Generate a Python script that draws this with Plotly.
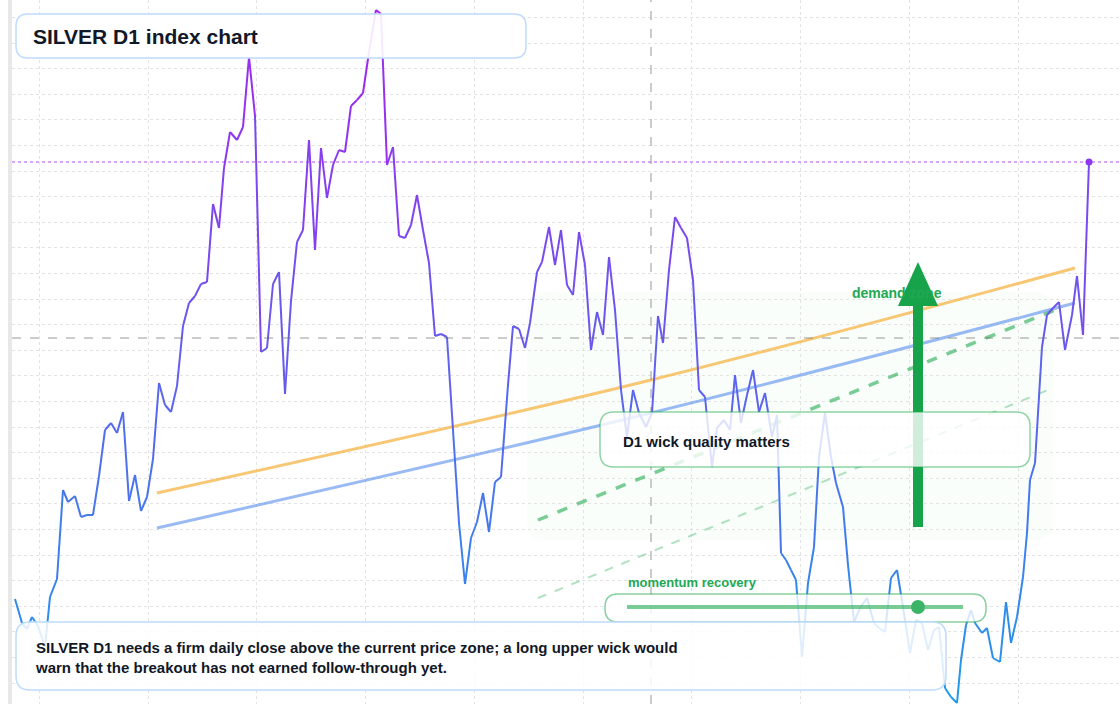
import plotly.graph_objects as go

# index level and session offset, read per point
level = [105, 81, 75, 87, 78, 57, 107, 125, 214, 202, 208, 187, 189, 189, 228, 274, 281, 271, 292, 203,
         229, 193, 207, 245, 321, 299, 292, 318, 378, 401, 408, 420, 422, 500, 476, 536, 572, 564, 577, 647,
         588, 352, 356, 420, 432, 310, 403, 462, 474, 564, 454, 556, 506, 539, 554, 552, 598, 604, 611, 652,
         694, 690, 539, 557, 468, 466, 479, 509, 474, 441, 368, 370, 367, 274, 181, 120, 166, 182, 211, 172,
         222, 227, 319, 378, 375, 356, 381, 432, 442, 477, 439, 474, 419, 409, 472, 439, 354, 392, 369, 447,
         394, 314, 267, 314, 291, 277, 291, 388, 361, 434, 487, 476, 466, 424, 314, 307, 237, 276, 284, 274,
         329, 281, 309, 334, 292, 311, 267, 289, 151, 144, 134, 124, 47, 121, 157, 247, 291, 247, 221, 197,
         139, 82, 96, 106, 81, 76, 72, 126, 134, 97, 51, 84, 81, 54, 74, 77, 16, 7, 1, 44,
         79, 94, 81, 71, 76, 46, 42, 102, 61, 87, 127, 171, 224, 241, 357, 389, 396, 402, 354, 389,
         428, 369, 542]
session = [0, 7, 12, 17, 23, 30, 35, 42, 48, 53, 60, 66, 72, 78, 84, 90, 96, 102, 108, 114,
           120, 126, 132, 138, 144, 150, 156, 162, 168, 174, 180, 186, 192, 198, 204, 209, 215, 222, 228, 234,
           240, 246, 252, 258, 264, 270, 276, 282, 288, 294, 300, 306, 312, 318, 324, 330, 336, 342, 348, 354,
           361, 366, 372, 378, 384, 390, 396, 402, 408, 414, 420, 426, 432, 438, 444, 450, 456, 462, 468, 474,
           480, 486, 493, 498, 504, 510, 515, 522, 527, 534, 540, 546, 552, 558, 564, 570, 576, 582, 588, 594,
           600, 606, 612, 618, 624, 631, 637, 643, 648, 654, 660, 666, 672, 678, 684, 690, 697, 702, 709, 715,
           720, 726, 732, 738, 744, 750, 757, 762, 766, 771, 776, 781, 787, 793, 799, 804, 810, 816, 821, 828,
           833, 839, 845, 852, 859, 864, 870, 876, 882, 888, 895, 901, 907, 913, 919, 924, 930, 936, 942, 946,
           951, 956, 960, 967, 972, 978, 985, 991, 996, 1002, 1008, 1012, 1015, 1020, 1027, 1032, 1038, 1044, 1050, 1057,
           1062, 1068, 1074]

title = "SILVER D1 index chart"
note = ("SILVER D1 needs a firm daily close above the current price zone; a long upper wick would<br>"
        "warn that the breakout has not earned follow-through yet.")
callout = "D1 wick quality matters"
zone_label = "demand zone"
momentum_label = "momentum recovery"

W, H, L = 1120, 704, 12
n = len(level)


def dx(px):
    return px - 15


def dy(py):
    return 704 - py


def paper(px, py):
    return (px - L) / (W - L), 1 - py / H


def rounded(x0, y0, x1, y1, r):
    a, b = paper(x0, y0), paper(x1, y1)
    rx, ry = r / (W - L), r / H
    X0, Y0, X1, Y1 = a[0], a[1], b[0], b[1]
    return (f"M{X0+rx},{Y0} L{X1-rx},{Y0} Q{X1},{Y0} {X1},{Y0-ry} L{X1},{Y1+ry} Q{X1},{Y1} {X1-rx},{Y1} "
            f"L{X0+rx},{Y1} Q{X0},{Y1} {X0},{Y1+ry} L{X0},{Y0-ry} Q{X0},{Y0} {X0+rx},{Y0} Z")


def col(v):
    t = max(0, min(1, v / 694))
    lo, hi = (30, 155, 235), (168, 32, 240)
    c = [round(lo[i] + (hi[i] - lo[i]) * t) for i in range(3)]
    return f"rgb({c[0]},{c[1]},{c[2]})"


fig = go.Figure()

# trend curves
fig.add_trace(go.Scatter(x=[dx(157), dx(651), dx(1075)], y=[dy(493), dy(380), dy(268)], mode="lines",
                         line=dict(color="rgba(245,180,70,0.75)", width=3, shape="spline")))
fig.add_trace(go.Scatter(x=[dx(157), dx(651), dx(1075)], y=[dy(528), dy(413), dy(303)], mode="lines",
                         line=dict(color="rgba(100,149,237,0.65)", width=3, shape="spline")))
fig.add_trace(go.Scatter(x=[dx(538), dx(1055)], y=[dy(520), dy(310)], mode="lines",
                         line=dict(color="rgba(34,170,80,0.6)", width=3.5, dash="dash")))
fig.add_trace(go.Scatter(x=[dx(538), dx(1048)], y=[dy(598), dy(390)], mode="lines",
                         line=dict(color="rgba(34,170,80,0.35)", width=2, dash="dash")))

# price line, coloured by level
for i in range(n - 1):
    fig.add_trace(go.Scatter(x=session[i:i + 2], y=level[i:i + 2], mode="lines",
                             line=dict(color=col((level[i] + level[i + 1]) / 2), width=2)))
fig.add_trace(go.Scatter(x=[session[-1]], y=[level[-1]], mode="markers",
                         marker=dict(color=col(level[-1]), size=7)))

shapes = []
shapes.append(dict(type="path", path=rounded(527, 292, 1053, 540, 18), xref="paper", yref="paper",
                   fillcolor="rgba(34,197,94,0.025)", line=dict(width=0), layer="below"))
shapes.append(dict(type="line", xref="paper", yref="y", x0=0, x1=1, y0=level[-1], y1=level[-1],
                   line=dict(color="rgba(160,32,240,0.8)", width=1, dash="dot")))
shapes.append(dict(type="line", xref="paper", yref="y", x0=0, x1=1, y0=dy(338), y1=dy(338),
                   line=dict(color="rgba(110,110,110,0.7)", width=1, dash="dash")))
shapes.append(dict(type="line", xref="x", yref="paper", x0=dx(651), x1=dx(651), y0=0, y1=1,
                   line=dict(color="rgba(110,110,110,0.7)", width=1, dash="dash")))
# arrow
a0, a1 = paper(918, 527), paper(918, 300)
shapes.append(dict(type="line", xref="paper", yref="paper", x0=a0[0], y0=a0[1], x1=a1[0], y1=a1[1],
                   line=dict(color="#16a34a", width=10)))
p1, p2, p3 = paper(898, 306), paper(938, 306), paper(918, 262)
shapes.append(dict(type="path", xref="paper", yref="paper",
                   path=f"M{p1[0]},{p1[1]} L{p2[0]},{p2[1]} L{p3[0]},{p3[1]} Z",
                   fillcolor="#16a34a", line=dict(width=0)))
# boxes
shapes.append(dict(type="path", path=rounded(16, 14, 526, 58, 12), xref="paper", yref="paper",
                   fillcolor="rgba(255,255,255,0.9)", line=dict(color="rgba(191,219,254,1)", width=1.5)))
shapes.append(dict(type="path", path=rounded(600, 412, 1030, 467, 14), xref="paper", yref="paper",
                   fillcolor="rgba(255,255,255,0.8)", line=dict(color="rgba(34,170,80,0.5)", width=1.5)))
shapes.append(dict(type="path", path=rounded(605, 594, 986, 622, 13), xref="paper", yref="paper",
                   fillcolor="rgba(255,255,255,0.8)", line=dict(color="rgba(34,170,80,0.55)", width=1.5)))
m0, m1 = paper(627, 607), paper(963, 607)
shapes.append(dict(type="line", xref="paper", yref="paper", x0=m0[0], y0=m0[1], x1=m1[0], y1=m1[1],
                   line=dict(color="rgba(34,170,80,0.6)", width=4)))
d0, d1 = paper(911, 600), paper(925, 614)
shapes.append(dict(type="circle", xref="paper", yref="paper", x0=d0[0], y0=d0[1], x1=d1[0], y1=d1[1],
                   fillcolor="#3cb468", line=dict(width=0)))
shapes.append(dict(type="path", path=rounded(16, 622, 946, 690, 14), xref="paper", yref="paper",
                   fillcolor="rgba(255,255,255,0.85)", line=dict(color="rgba(191,219,254,1)", width=1.5)))


def label(px, py, text, size, color):
    x, y = paper(px, py)
    return dict(x=x, y=y, xref="paper", yref="paper", text=text, showarrow=False, xanchor="left",
                yanchor="middle", align="left", font=dict(size=size, color=color, family="Liberation Sans, Arial"))


annotations = [
    label(31, 36, f"<b>{title}</b>", 21, "#111827"),
    label(621, 441, f"<b>{callout}</b>", 15, "#111827"),
    label(33, 657, f"<b>{note}</b>", 15, "#111827"),
    label(626, 582, f"<b>{momentum_label}</b>", 13, "#22a853"),
    label(850, 293, f"<b>{zone_label}</b>", 14, "#22a853"),
]

fig.update_layout(
    width=W, height=H, showlegend=False, plot_bgcolor="white", paper_bgcolor="white",
    margin=dict(l=L, r=0, t=0, b=0), shapes=shapes, annotations=annotations,
    xaxis=dict(range=[-3, W - L - 3], showticklabels=False, zeroline=False, showline=False,
               showgrid=True, gridcolor="#e3e3e3", griddash="dot", tick0=dx(148), dtick=108.75),
    yaxis=dict(range=[0, 704], showticklabels=False, zeroline=False, showline=True, linecolor="#e8e8e8",
               linewidth=4, showgrid=True, gridcolor="#e3e3e3", griddash="dot", tick0=21, dtick=25.6),
)
fig.write_html("out.html", config={"displayModeBar": False},
               post_script="document.body.style.margin='0';")
